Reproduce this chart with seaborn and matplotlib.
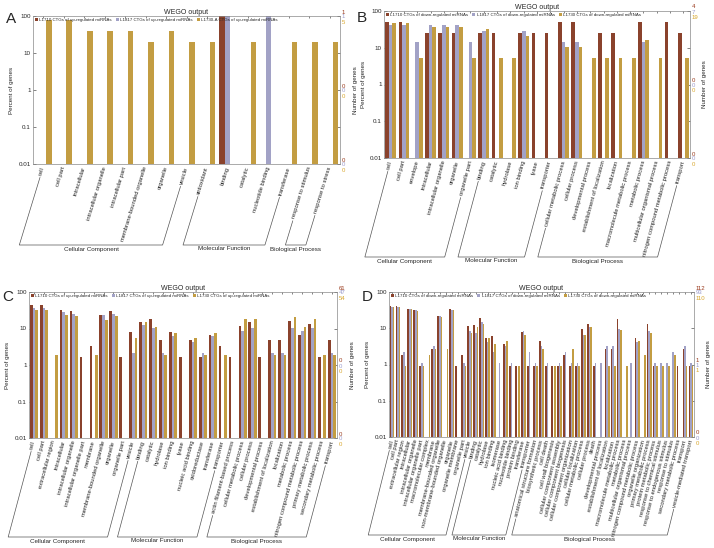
import matplotlib
matplotlib.use("Agg")
import matplotlib.pyplot as plt
from matplotlib.lines import Line2D
from matplotlib.transforms import IdentityTransform
import seaborn as sns
import pandas as pd
import numpy as np

W, H = 714, 548

colors = ["#9a3a1c", "#9c9ccc", "#d8a62c"]
group_names = ["Cellular Component", "Molecular Function", "Biological Process"]

# ---- panel A: up-regulated ----
a_series = ["L1710 CTGs of up-regulated miRNAs", "L1817 CTGs of up-regulated miRNAs",
            "L1730-A CTGs of up-regulated miRNAs"]
a_terms = ["cell", "cell part", "intracellular", "intracellular organelle", "intracellular part",
           "membrane-bounded organelle", "organelle", "vesicle",
           "antioxidant", "binding", "catalytic", "nucleotide binding", "transferase",
           "response to stimulus", "response to stress"]
a_groups = [8, 5, 2]
a_l1710 = [0, 0, 0, 0, 0, 0, 0, 0, 0, 100, 0, 0, 0, 0, 0]
a_l1817 = [0, 0, 0, 0, 0, 0, 0, 0, 0, 100, 0, 100, 0, 0, 0]
a_l1730 = [80, 80, 40, 40, 40, 20, 40, 20, 20, 0, 20, 0, 20, 20, 20]
a_top = ["1", "1", "5"]
a_mid = ["0", "0", "0"]

# ---- panel B: down-regulated ----
b_series = ["L1710 CTGs of down-regulated miRNAs", "L1817 CTGs of down-regulated miRNAs",
            "L1730 CTGs of down-regulated miRNAs"]
b_terms = ["cell", "cell part", "envelope", "intracellular", "intracellular organelle",
           "organelle", "organelle part",
           "binding", "catalytic", "hydrolase", "ion binding", "lyase", "transporter",
           "cellular metabolic process", "cellular process", "developmental process",
           "establishment of localization", "localization", "macromolecule metabolic process",
           "metabolic process", "multicellular organismal process",
           "nitrogen compound metabolic process", "transport"]
b_groups = [7, 6, 10]
b_l1710 = [50, 50, 0, 25, 25, 25, 0, 25, 25, 0, 25, 25, 25, 50, 50, 0, 25, 25, 0, 50, 0, 50, 25]
b_l1817 = [42.9, 42.9, 14.3, 42.9, 42.9, 42.9, 14.3, 28.6, 0, 0, 28.6, 0, 0, 14.3, 14.3, 0, 0, 0, 0,
           14.3, 0, 0, 0]
b_l1730 = [47.4, 47.4, 5.3, 36.8, 36.8, 36.8, 5.3, 31.6, 5.3, 5.3, 21.1, 0, 0, 10.5, 10.5, 5.3, 5.3,
           5.3, 5.3, 15.8, 5.3, 0, 5.3]
b_top = ["4", "7", "19"]
b_mid = ["0", "0", "0"]

# ---- panel C: up-regulated ----
c_series = ["L1710 CTGs of up-regulated miRNAs", "L1817 CTGs of up-regulated miRNAs",
            "L1730 CTGs of up-regulated miRNAs"]
c_terms = ["cell", "cell part", "extracellular region", "intracellular", "intracellular organelle",
           "intracellular organelle part", "membrane", "membrane-bounded organelle", "organelle",
           "organelle part", "vesicle",
           "binding", "catalytic", "hydrolase", "ion binding", "lyase", "nucleic acid binding",
           "oxidoreductase", "transferase", "transporter",
           "actin filament-based process", "cellular metabolic process", "cellular process",
           "developmental process", "establishment of localization", "localization",
           "metabolic process", "nitrogen compound metabolic process", "primary metabolic process",
           "secondary metabolic process", "transport"]
c_groups = [11, 9, 11]
c_l1710 = [44.3, 44.3, 0, 32.8, 31.1, 1.64, 3.28, 23.0, 31.1, 1.64, 8.2,
           14.8, 18.0, 4.9, 8.2, 1.64, 4.9, 1.64, 6.56, 3.28,
           1.64, 11.5, 14.8, 1.64, 4.9, 4.9, 16.4, 6.56, 13.1, 1.64, 4.9]
c_l1817 = [36.2, 36.2, 0, 27.7, 25.5, 0, 0, 23.4, 25.5, 0, 2.13,
           12.8, 10.6, 2.13, 6.4, 0, 4.26, 2.13, 6.4, 0,
           0, 8.5, 10.6, 0, 2.13, 2.13, 10.6, 8.5, 10.6, 0, 2.13]
c_l1730 = [31.5, 31.5, 1.85, 24.1, 22.2, 0, 1.85, 16.7, 22.2, 0, 5.56,
           14.8, 11.1, 1.85, 7.4, 0, 5.56, 1.85, 7.4, 1.85,
           0, 18.5, 18.5, 0, 1.85, 1.85, 20.4, 11.1, 18.5, 1.85, 1.85]
c_top = ["61", "47", "54"]
c_mid = ["0", "0", "0"]

# ---- panel D: down-regulated ----
d_series = ["L1710 CTGs of down-regulated miRNAs", "L1817 CTGs of down-regulated miRNAs",
            "L1730 CTGs of down-regulated miRNAs"]
d_terms = ["cell", "cell part", "extracellular region", "intracellular", "intracellular organelle",
           "intracellular organelle part", "macromolecular complex", "membrane",
           "membrane-bounded organelle", "non-membrane-bounded organelle", "organelle",
           "organelle membrane", "organelle part", "vesicle",
           "binding", "catalytic", "hydrolase", "ion binding", "isomerase", "nucleic acid binding",
           "nucleotide binding", "protein binding", "transferase", "transporter",
           "anatomical structure formation", "biosynthetic process", "cell death",
           "cell wall biogenesis", "cellular component assembly", "cellular component biogenesis",
           "cellular component organization", "cellular localization", "cellular metabolic process",
           "cellular process", "death", "developmental process", "establishment of localization",
           "localization", "macromolecule metabolic process", "metabolic process",
           "multicellular organismal process", "nitrogen compound metabolic process",
           "organelle organization", "primary metabolic process", "protein metabolic process",
           "response to chemical stimulus", "response to endogenous stimulus", "response to stimulus",
           "secondary metabolic process", "transport", "vesicle-mediated transport"]
d_groups = [14, 10, 27]
d_l1710 = [40.2, 40.2, 1.79, 33.9, 32.1, 0.89, 0, 2.68, 22.3, 0, 33.9, 0.89, 1.79, 11.6,
           12.5, 18.8, 5.36, 6.25, 0, 3.57, 0.89, 0.89, 8.04, 0.89,
           0.89, 4.46, 0.89, 0.89, 0.89, 1.79, 0.89, 0.89, 9.8, 13.4, 0.89, 0, 2.68, 2.68,
           17.9, 0, 0, 5.36, 0, 13.4, 0.89, 0, 0, 0, 0.89, 2.68, 0.89]
d_l1817 = [38.7, 38.7, 2.15, 33.3, 31.2, 1.08, 0, 3.23, 21.5, 0, 32.3, 0, 1.08, 8.6,
           7.5, 15.1, 4.3, 2.15, 1.08, 3.23, 1.08, 0, 8.6, 2.15,
           1.08, 3.23, 1.08, 0, 1.08, 2.15, 1.08, 1.08, 6.45, 10.8, 1.08, 1.08, 3.23, 3.23,
           9.68, 0, 1.08, 4.3, 0, 8.6, 1.08, 1.08, 1.08, 2.15, 0, 3.23, 1.08]
d_l1730 = [38.2, 38.2, 0.91, 33.6, 30.0, 0.91, 1.82, 2.73, 20.9, 2.73, 30.9, 0, 0.91, 7.3,
           10.9, 12.7, 5.45, 3.64, 0, 4.55, 0, 0.91, 6.36, 0,
           0.91, 2.73, 0, 0.91, 0.91, 0, 2.73, 0.91, 6.36, 10.9, 0, 0, 0.91, 0.91,
           9.09, 0.91, 0, 4.55, 1.82, 7.27, 0.91, 0.91, 0.91, 1.82, 0, 0.91, 0.91]
d_top = ["112", "93", "110"]
d_mid = ["1", "1", "1"]

sns.set_style("ticks")
plt.rcParams["font.family"] = ["Liberation Sans", "DejaVu Sans"]
plt.rcParams["axes.linewidth"] = 0.5

fig = plt.figure(figsize=(W / 100, H / 100), dpi=100)


def draw_panel(box, letter, letter_xy, series, terms, groups, vals, top_lab, mid_lab, angle, base_y):
    l, t, r, b = box
    ax = fig.add_axes([l / W, 1 - b / H, (r - l) / W, (b - t) / H])
    df = pd.DataFrame({s: v for s, v in zip(series, vals)})
    df["term"] = terms
    df = df.melt(id_vars="term", var_name="series", value_name="pct")
    sns.barplot(data=df, x="term", y="pct", hue="series", order=terms, hue_order=series,
                palette=colors, width=0.82, gap=0, errorbar=None, linewidth=0, ax=ax)
    ax.set_yscale("log")
    ax.set_ylim(0.01, 100)
    ax.set_xlim(-0.5, len(terms) - 0.5)
    ax.set_yticks([0.01, 0.1, 1, 10, 100])
    ax.set_yticklabels(["0.01", "0.1", "1", "10", "100"])
    ax.yaxis.set_minor_locator(matplotlib.ticker.NullLocator())
    ax.set_xticks(range(len(terms)))
    ax.set_xticklabels(terms, rotation=angle, ha="right", va="center", rotation_mode="anchor",
                       fontsize=4.2, color="#222222")
    ax.tick_params(axis="x", bottom=False, top=True, direction="in", length=1.5, width=0.4, pad=2)
    ax.tick_params(axis="y", direction="in", length=2, width=0.4, labelsize=4.5, pad=1.5,
                   right=True)
    for sp in ax.spines.values():
        sp.set_color("#888888")
    ax.set_xlabel("")
    ax.set_ylabel("Percent of genes", fontsize=4.5, labelpad=3)
    ax.set_title("WEGO output", fontsize=5, pad=1.5)
    ax.text(1 + 15 / (r - l), 0.5, "Number of genes", rotation=90, transform=ax.transAxes,
            ha="center", va="center", fontsize=4.5)
    ax.legend(loc="upper left", ncol=3, fontsize=3.2, frameon=False, handlelength=0.7,
              handleheight=0.7, handletextpad=0.3, columnspacing=0.9, borderaxespad=0.2,
              borderpad=0.2)
    offs = [5, 0, -5.5]
    for level, labs in [(100, top_lab), (1, mid_lab), (0.01, ["0", "0", "0"])]:
        for k, txt in enumerate(labs):
            ax.annotate(txt, xy=(1, level), xycoords=("axes fraction", "data"),
                        xytext=(2, offs[k] - 1), textcoords="offset pixels", fontsize=4.3,
                        color=colors[k], ha="left", va="center", annotation_clip=False)
    fig.text(letter_xy[0] / W, 1 - letter_xy[1] / H, letter, fontsize=11, ha="center", va="center")
    return dict(ax=ax, groups=groups, angle=angle, base_y=base_y)


panels = [
    draw_panel((33, 16, 340, 164), "A", (11, 19), a_series, a_terms, a_groups,
               [a_l1710, a_l1817, a_l1730], a_top, a_mid, 73, 245),
    draw_panel((384, 11, 690, 158), "B", (362, 18), b_series, b_terms, b_groups,
               [b_l1710, b_l1817, b_l1730], b_top, b_mid, 75, 257),
    draw_panel((29, 292, 337, 438), "C", (8, 297), c_series, c_terms, c_groups,
               [c_l1710, c_l1817, c_l1730], c_top, c_mid, 75, 537),
    draw_panel((389, 292, 694, 437), "D", (367, 297), d_series, d_terms, d_groups,
               [d_l1710, d_l1817, d_l1730], d_top, d_mid, 76, 535),
]

# group brackets: legs continue the first / last label of each group down to a base line
fig.canvas.draw()
renderer = fig.canvas.get_renderer()
for p in panels:
    ax = p["ax"]
    labels = ax.get_xticklabels()
    th = np.deg2rad(p["angle"])
    base = H - p["base_y"]
    start = 0
    for g, n in enumerate(p["groups"]):
        pts = []
        for idx in (start, start + n - 1):
            lab = labels[idx]
            xa, ya = lab.get_transform().transform(lab.get_position())
            y0 = lab.get_window_extent(renderer).y0 - 1.5
            x0 = xa - (ya - y0) / np.tan(th)
            x1 = xa - (ya - base) / np.tan(th)
            pts.append((x0, y0, x1))
        (lx0, ly0, lx1), (rx0, ry0, rx1) = pts
        fig.add_artist(Line2D([lx0, lx1, rx1, rx0], [ly0, base, base, ry0],
                              transform=IdentityTransform(), color="#555555", lw=0.5))
        fig.text((lx1 + rx1) / 2 / W, (base - 1.5) / H, group_names[g], ha="center", va="top",
                 fontsize=4.5)
        start += n

fig.savefig("out.png", dpi=100)
